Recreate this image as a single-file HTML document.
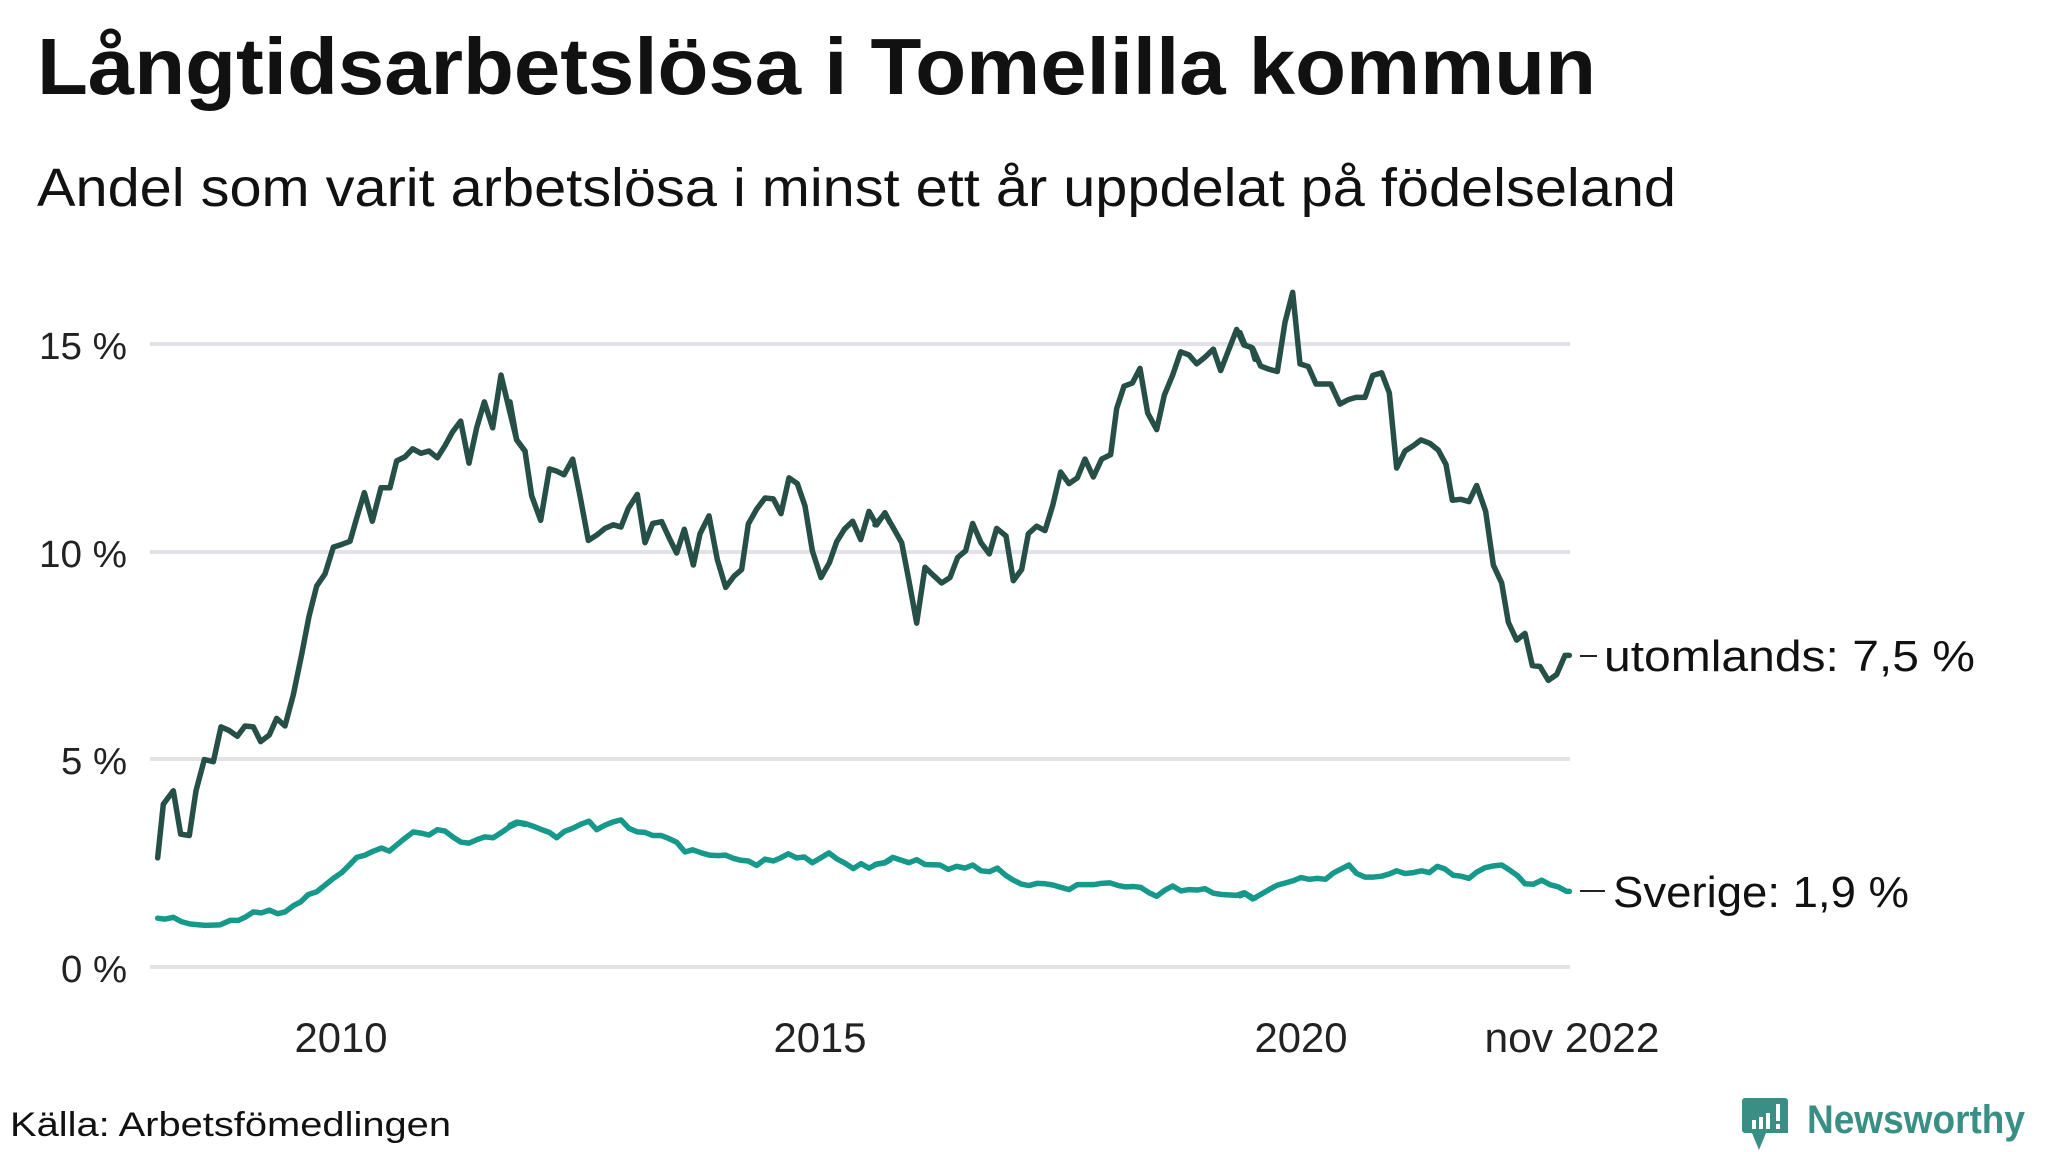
<!DOCTYPE html>
<html><head><meta charset="utf-8"><style>
html,body{margin:0;padding:0;background:#fff;}
svg{display:block;font-family:"Liberation Sans",sans-serif;}
</style></head><body>
<svg width="2048" height="1152" viewBox="0 0 2048 1152" xmlns="http://www.w3.org/2000/svg">
<rect width="2048" height="1152" fill="#fff"/>
<text x="37" y="94" font-size="80" font-weight="bold" fill="#111" textLength="1559" lengthAdjust="spacingAndGlyphs">Långtidsarbetslösa i Tomelilla kommun</text>
<text x="37" y="206" font-size="54" fill="#111" textLength="1639" lengthAdjust="spacingAndGlyphs">Andel som varit arbetslösa i minst ett år uppdelat på födelseland</text>
<g stroke="#e2e2e8" stroke-width="4">
<line x1="150" y1="344" x2="1570" y2="344"/>
<line x1="150" y1="552" x2="1570" y2="552"/>
<line x1="150" y1="759" x2="1570" y2="759"/>
<line x1="150" y1="967" x2="1570" y2="967"/>
</g>
<g font-size="38" fill="#222" text-anchor="end">
<text x="127" y="359" textLength="88" lengthAdjust="spacingAndGlyphs">15 %</text>
<text x="127" y="567" textLength="88" lengthAdjust="spacingAndGlyphs">10 %</text>
<text x="127" y="774" textLength="66" lengthAdjust="spacingAndGlyphs">5 %</text>
<text x="127" y="982" textLength="66" lengthAdjust="spacingAndGlyphs">0 %</text>
</g>
<g font-size="42" fill="#222" text-anchor="middle">
<text x="341" y="1052" textLength="93" lengthAdjust="spacingAndGlyphs">2010</text>
<text x="820" y="1052" textLength="93" lengthAdjust="spacingAndGlyphs">2015</text>
<text x="1301" y="1052" textLength="93" lengthAdjust="spacingAndGlyphs">2020</text>
<text x="1572" y="1052" textLength="175" lengthAdjust="spacingAndGlyphs">nov 2022</text>
</g>
<g fill="none" stroke-width="5.5" stroke-linejoin="round" stroke-linecap="round">
<g transform="translate(145,270) scale(0.33333,0.44703)">
<polyline vector-effect="non-scaling-stroke" stroke="#264f48" points="38,1315 55,1195 85,1165 107,1262 133,1265 153,1165 178,1095 205,1100 228,1022 252,1030 277,1043 300,1020 325,1022 347,1055 373,1040 395,1003 420,1020 445,950 470,860 492,775 515,707 540,680 565,620 590,614 615,607 635,555 658,498 682,562 708,487 735,487 755,427 780,418 803,400 828,410 852,405 877,420 900,393 922,363 947,338 972,432 995,353 1018,295 1043,353 1068,235 1092,310 1115,380 1140,405"/>
<polyline vector-effect="non-scaling-stroke" stroke="#16998a" points="38,1450 60,1452 85,1448 110,1458 135,1463 180,1466 225,1465 255,1455 280,1455 300,1448 325,1436 350,1438 373,1432 398,1440 420,1436 445,1422 468,1413 490,1397 515,1391 540,1376 565,1361 590,1348 612,1332 635,1314 660,1309 685,1300 710,1293 733,1300 757,1285 780,1271 805,1257 830,1260 852,1264 877,1252 900,1255 925,1269 948,1280 972,1282 997,1274 1020,1268 1045,1270 1070,1258 1093,1246 1118,1237 1140,1240"/>
</g>
<g transform="translate(510,270) scale(0.33333,0.44703)">
<polyline vector-effect="non-scaling-stroke" stroke="#264f48" points="0,295 20,380 45,405 65,505 92,560 118,445 140,450 162,458 188,423 210,505 235,605 260,593 285,578 310,570 333,575 355,533 382,502 405,610 428,567 455,563 478,600 500,633 523,580 550,660 570,590 597,550 622,648 647,710 672,685 695,670 715,568 740,535 765,510 790,512 813,545 837,465 862,478 885,528 907,628 933,688 958,655 980,608 1003,580 1028,562 1052,603 1077,540 1100,570 1125,543 1140,565"/>
<polyline vector-effect="non-scaling-stroke" stroke="#16998a" points="0,1242 20,1235 45,1238 68,1244 92,1251 118,1258 140,1270 163,1256 188,1249 212,1240 237,1233 260,1252 285,1242 308,1235 333,1230 357,1249 382,1257 405,1258 428,1265 453,1265 477,1272 500,1280 525,1302 548,1297 575,1304 598,1309 625,1310 647,1309 670,1316 690,1320 715,1322 740,1332 765,1318 790,1322 812,1315 835,1306 860,1315 883,1313 907,1326 932,1315 957,1304 980,1317 1005,1327 1030,1339 1053,1328 1077,1338 1100,1329 1125,1326 1140,1320"/>
</g>
<g transform="translate(875,270) scale(0.33333,0.44703)">
<polyline vector-effect="non-scaling-stroke" stroke="#264f48" points="0,570 30,545 55,577 80,610 103,700 125,790 150,665 175,683 200,700 225,688 248,643 272,628 293,567 318,610 343,635 365,578 393,595 415,695 440,670 460,590 485,573 510,583 533,527 557,452 582,478 607,465 630,423 655,463 680,423 707,413 725,310 747,260 772,253 795,220 818,320 845,357 868,280 893,235 917,183 942,190 965,210 990,195 1015,177 1037,225 1062,177 1085,133 1107,168 1130,173 1140,200"/>
<polyline vector-effect="non-scaling-stroke" stroke="#16998a" points="0,1330 28,1326 53,1314 78,1320 102,1326 125,1319 150,1330 195,1331 220,1341 245,1334 270,1338 293,1331 318,1344 343,1346 367,1338 392,1354 415,1365 440,1374 462,1377 487,1372 512,1373 535,1376 558,1381 582,1386 607,1375 655,1375 680,1372 705,1371 730,1377 752,1380 775,1379 797,1381 822,1393 845,1401 870,1387 893,1378 918,1389 942,1386 967,1387 990,1384 1015,1394 1040,1397 1085,1399 1108,1393 1135,1405 1140,1405"/>
</g>
<g transform="translate(1240,270) scale(0.33333,0.44703)">
<polyline vector-effect="non-scaling-stroke" stroke="#264f48" points="0,140 15,168 38,175 62,215 87,222 112,227 135,117 158,50 180,210 205,216 228,255 272,255 300,300 325,290 348,285 375,285 398,236 425,230 448,275 470,443 495,405 520,393 543,380 570,388 595,403 618,435 637,515 662,513 687,518 710,482 737,540 760,660 785,700 805,788 830,828 855,813 877,885 900,887 925,918 950,905 975,862 988,862"/>
<polyline vector-effect="non-scaling-stroke" stroke="#16998a" points="0,1400 15,1395 38,1407 62,1397 87,1386 112,1376 137,1371 160,1366 183,1359 208,1363 232,1361 257,1363 280,1349 303,1340 327,1331 350,1350 375,1358 400,1358 425,1356 448,1351 470,1344 495,1350 520,1348 545,1344 568,1348 592,1334 615,1340 640,1354 663,1356 687,1361 710,1347 735,1337 760,1333 785,1331 810,1343 833,1355 855,1373 880,1374 905,1365 930,1375 955,1380 980,1390 988,1390"/>
</g>
</g>
<g stroke="#222" stroke-width="2">
<line x1="1580" y1="656" x2="1597" y2="656"/>
<line x1="1580" y1="891" x2="1605" y2="891"/>
</g>
<text x="1604" y="671" font-size="44" fill="#111" textLength="371" lengthAdjust="spacingAndGlyphs">utomlands: 7,5 %</text>
<text x="1613" y="907" font-size="44" fill="#111" textLength="296" lengthAdjust="spacingAndGlyphs">Sverige: 1,9 %</text>
<text x="10" y="1136" font-size="34" fill="#111" textLength="441" lengthAdjust="spacingAndGlyphs">Källa: Arbetsfömedlingen</text>
<g>
<path d="M1745,1098 h40 a3,3 0 0 1 3,3 v32 h-22 l-7,17 l-7,-17 h-7 a3,3 0 0 1 -3,-3 v-29 a3,3 0 0 1 3,-3z" fill="#3a8f84"/>
<rect x="1752" y="1120" width="4" height="9" fill="#fff"/>
<rect x="1759" y="1117" width="4" height="12" fill="#fff"/>
<rect x="1766" y="1113" width="4" height="16" fill="#fff"/>
<rect x="1776" y="1104" width="4" height="17" fill="#fff"/>
<rect x="1776" y="1124" width="4" height="5" fill="#fff"/>
</g>
<text x="1807" y="1133" font-size="40" font-weight="bold" fill="#3a8f84" textLength="218" lengthAdjust="spacingAndGlyphs">Newsworthy</text>
</svg>
</body></html>
